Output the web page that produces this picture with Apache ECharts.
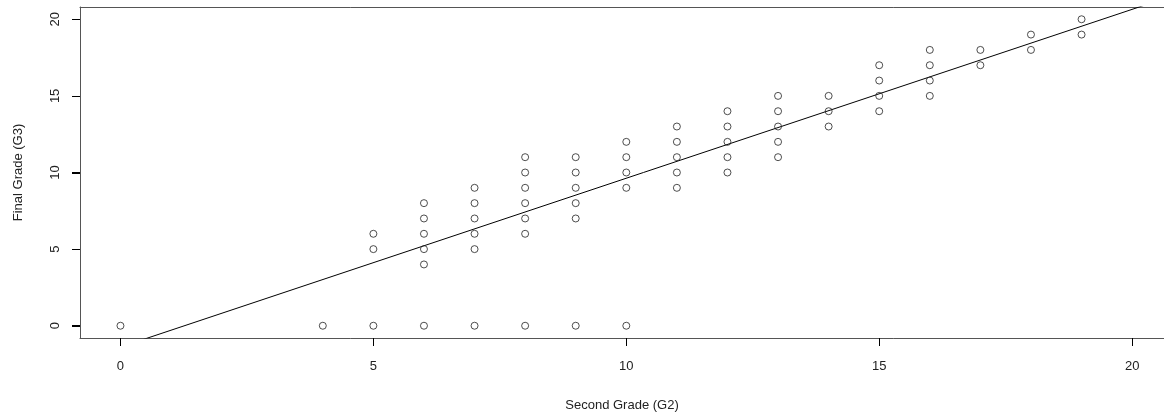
<!DOCTYPE html>
<html>
<head>
<meta charset="utf-8">
<script src="https://cdn.jsdelivr.net/npm/echarts@6/dist/echarts.min.js"></script>
<style>
html,body{margin:0;padding:0;background:#fff;}
#chart{width:1164px;height:415px;}
</style>
</head>
<body>
<div id="chart"></div>
<script>
// Second grade (G2) values and the final grades (G3) observed at each
const g2Values = [0, 4, 5, 6, 7, 8, 9, 10, 11, 12, 13, 14, 15, 16, 17, 18, 19];
const g3AtG2 = [
  [0],
  [0],
  [0, 5, 6],
  [0, 4, 5, 6, 7, 8],
  [0, 5, 6, 7, 8, 9],
  [0, 6, 7, 8, 9, 10, 11],
  [0, 7, 8, 9, 10, 11],
  [0, 9, 10, 11, 12],
  [9, 10, 11, 12, 13],
  [10, 11, 12, 13, 14],
  [11, 12, 13, 14, 15],
  [13, 14, 15],
  [14, 15, 16, 17],
  [15, 16, 17, 18],
  [17, 18],
  [18, 19],
  [19, 20]
];
// Fitted line G3 = intercept + slope * G2
const fitIntercept = -1.393;
const fitSlope = 1.102;
// Tick labels
const xTicks = [0, 5, 10, 15, 20];
const yTicks = [0, 5, 10, 15, 20];
// Visible axis ranges (plot region is cropped on the right in the original)
const xMin = -0.8, xMax = 20.63;
const yMin = -0.8, yMax = 20.8;

const points = [];
g2Values.forEach((x, i) => g3AtG2[i].forEach(y => points.push([x, y])));
const fitLine = [xMin - 1, xMax + 1].map(x => [x, fitIntercept + fitSlope * x]);

const font = '"Liberation Sans", Arial, sans-serif';
const TICK_LEN = 8;
const boxLine = {show: true, onZero: false, lineStyle: {color: '#555', width: 1}};
const tickStyle = {show: true, inside: false, length: TICK_LEN, lineStyle: {color: '#000', width: 1}};

const chart = echarts.init(document.getElementById('chart'), null, {renderer: 'canvas'});
chart.setOption({
  animation: false,
  backgroundColor: '#fff',
  grid: {left: 80, right: 0, top: 7, bottom: 77, show: false, outerBoundsMode: 'none'},
  xAxis: [{
    type: 'value', min: xMin, max: xMax, position: 'bottom',
    name: 'Second Grade (G2)', nameLocation: 'middle', nameGap: 61,
    nameTextStyle: {fontFamily: font, fontSize: 13, color: '#222'},
    axisLine: boxLine,
    axisTick: Object.assign({customValues: xTicks}, tickStyle),
    axisLabel: {customValues: xTicks, fontFamily: font, fontSize: 13, color: '#222', margin: 22},
    splitLine: {show: false}
  }, {
    type: 'value', min: xMin, max: xMax, position: 'top',
    axisLine: boxLine, axisTick: {show: false}, axisLabel: {show: false}, splitLine: {show: false}
  }],
  yAxis: [{
    type: 'value', min: yMin, max: yMax, position: 'left',
    name: 'Final Grade (G3)', nameLocation: 'middle', nameGap: 55, nameRotate: 90,
    nameTextStyle: {fontFamily: font, fontSize: 13, color: '#222'},
    axisLine: boxLine,
    axisTick: Object.assign({customValues: yTicks}, tickStyle),
    axisLabel: {customValues: yTicks, rotate: 90, fontFamily: font, fontSize: 13, color: '#222', margin: 18},
    splitLine: {show: false}
  }],
  series: [
    {
      type: 'line', data: fitLine, showSymbol: false, symbol: 'none', clip: true,
      lineStyle: {color: '#000', width: 1}, z: 2, silent: true
    },
    {
      type: 'scatter', data: points, symbol: 'circle', symbolSize: 7, z: 3,
      itemStyle: {color: 'rgba(0,0,0,0)', borderColor: '#222', borderWidth: 1}
    }
  ]
});

// Outward tick marks, positioned through the axes' own scales (backup for the axis ticks)
const tickGraphics = [];
const yBase = chart.convertToPixel({yAxisIndex: 0}, yMin);
const xBase = chart.convertToPixel({xAxisIndex: 0}, xMin);
xTicks.forEach(v => {
  const px = Math.round(chart.convertToPixel({xAxisIndex: 0}, v)) + 0.5;
  tickGraphics.push({type: 'line', silent: true, z: 10,
    shape: {x1: px, y1: yBase, x2: px, y2: yBase + TICK_LEN},
    style: {stroke: '#000', lineWidth: 1}});
});
yTicks.forEach(v => {
  const py = Math.round(chart.convertToPixel({yAxisIndex: 0}, v)) + 0.5;
  tickGraphics.push({type: 'line', silent: true, z: 10,
    shape: {x1: xBase, y1: py, x2: xBase - TICK_LEN, y2: py},
    style: {stroke: '#000', lineWidth: 1}});
});
chart.setOption({graphic: tickGraphics});
</script>
</body>
</html>
